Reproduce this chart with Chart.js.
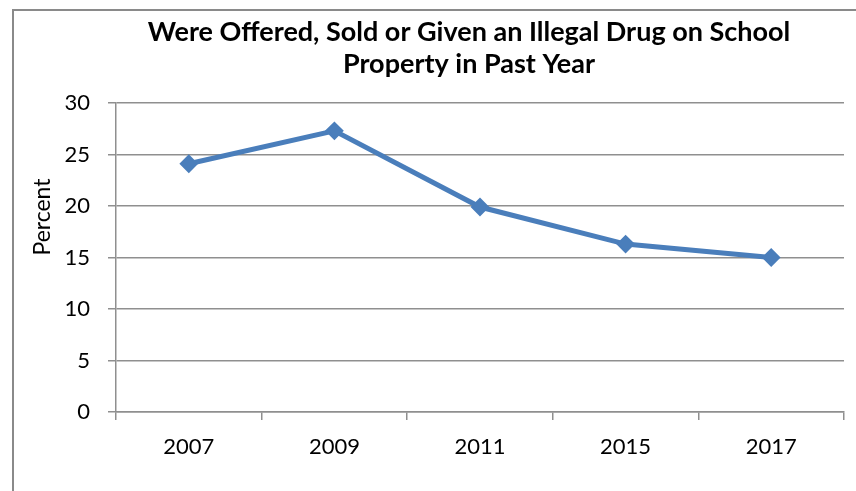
<!DOCTYPE html>
<html lang="en">
<head>
  <meta charset="UTF-8">
  <title>Illegal Drug Offered on School Property</title>
  <script src="https://cdn.jsdelivr.net/npm/chart.js"></script>
  <style>
    html, body { margin: 0; padding: 0; background: #ffffff; overflow: hidden; }
    .chart-box {
      position: absolute;
      left: 12px;
      top: 9px;
      border: 2px solid #8a8a8a;
      width: 914px;
      height: 480px;
    }
  </style>
</head>
<body>
  <div class="chart-box">
    <canvas id="drugChart" width="914" height="480"></canvas>
  </div>

  <script>
    const years = ['2007', '2009', '2011', '2015', '2017'];
    const percentOffered = [24.1, 27.3, 19.9, 16.3, 15.0];
    const titleLines = ['Were Offered, Sold or Given an Illegal Drug on School', 'Property in Past Year'];
    const yAxisLabel = 'Percent';

    const FONT = 'Lato, "Open Sans", sans-serif';
    const GRID = '#8f8f8f';

    // title is centred over the whole box, not the plot; the y caption
    // sits a bit above the middle of the axis
    const captions = {
      id: 'captions',
      afterDraw(chart) {
        const ctx = chart.ctx;
        ctx.save();
        ctx.fillStyle = '#000';
        ctx.textAlign = 'center';
        ctx.textBaseline = 'middle';

        ctx.font = 'bold 27px ' + FONT;
        titleLines.forEach((line, i) => ctx.fillText(line, 455, 21.2 + i * 32.4));

        ctx.translate(28.5, 206);
        ctx.rotate(-Math.PI / 2);
        ctx.font = '23px ' + FONT;
        ctx.fillText(yAxisLabel, 0, 0);
        ctx.restore();
      }
    };

    const ctx = document.getElementById('drugChart').getContext('2d');
    new Chart(ctx, {
      type: 'line',
      data: {
        labels: years,
        datasets: [{
          data: percentOffered,
          borderColor: '#4a7ebb',
          backgroundColor: '#4a7ebb',
          borderWidth: 5,
          pointStyle: 'rectRot',
          pointRadius: 8,
          pointBorderWidth: 2,
          pointBackgroundColor: '#4a7ebb',
          pointBorderColor: '#4a7ebb',
          tension: 0
        }]
      },
      options: {
        responsive: false,
        animation: false,
        layout: {
          padding: { left: 0, right: 84, top: 92, bottom: 0 }
        },
        plugins: {
          legend: { display: false },
          tooltip: { enabled: false },
          title: { display: false }
        },
        scales: {
          y: {
            min: 0,
            max: 30,
            afterFit(scale) { scale.width = 102; },
            ticks: {
              stepSize: 5,
              color: '#000',
              font: { family: FONT, size: 22 },
              padding: 18
            },
            grid: {
              color: GRID,
              lineWidth: 1.5,
              drawTicks: true,
              tickLength: 8
            },
            border: { display: true, color: GRID, width: 1.5 }
          },
          x: {
            offset: true,
            afterFit(scale) { scale.height = 79; },
            ticks: {
              color: '#000',
              font: { family: FONT, size: 22 },
              padding: 14,
              maxRotation: 0
            },
            grid: {
              offset: true,
              color: GRID,
              lineWidth: 1.5,
              drawOnChartArea: false,
              drawTicks: true,
              tickLength: 8
            },
            border: { display: true, color: GRID, width: 1.5 }
          }
        }
      },
      plugins: [captions]
    });
  </script>
</body>
</html>
